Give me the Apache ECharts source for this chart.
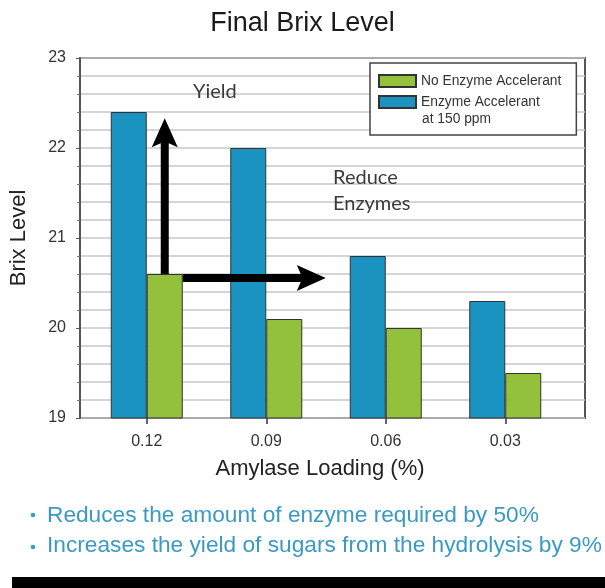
<!DOCTYPE html>
<html><head><meta charset="utf-8">
<script src="https://cdn.jsdelivr.net/npm/echarts@6/dist/echarts.min.js"></script>
<style>html,body{margin:0;padding:0;background:#fff}#c{width:605px;height:588px}</style>
</head><body><div id="c"></div>
<script>
const categories = ['0.12', '0.09', '0.06', '0.03'];
const withAccelerant = [22.4, 22.0, 20.8, 20.3];
const noAccelerant = [20.6, 20.1, 20.0, 19.5];
const yMin = 19, yMax = 23, yInterval = 1;
const nameNo = 'No Enzyme Accelerant';
const nameWith = 'Enzyme Accelerant at 150 ppm';
const bullets = ['Reduces the amount of enzyme required by 50%', 'Increases the yield of sugars from the hydrolysis by 9%'];
const FONT = '"Liberation Sans", Arial, sans-serif';
const BLUE = '#1b93c0', GREEN = '#93c13c';

const chart = echarts.init(document.getElementById('c'), null, {renderer: 'canvas'});
const option = {
  backgroundColor: '#fff',
  animation: false,
  title: {text: 'Final Brix Level', left: 'center', top: 5,
    textStyle: {fontFamily: FONT, fontSize: 27, fontWeight: 'normal', color: '#1a1a1a'}},
  grid: [
    {left: 68, top: 58, width: 517, height: 360, show: true, borderColor: '#555', borderWidth: 2, backgroundColor: 'transparent'},
    {left: 87, top: 58, width: 478, height: 360}
  ],
  xAxis: [
    {gridIndex: 0, type: 'value', min: 0, max: 1, show: false},
    {gridIndex: 1, type: 'category', data: categories, boundaryGap: true,
      axisLine: {show: false},
      axisTick: {show: true, alignWithLabel: true, length: 6, lineStyle: {color: '#333', width: 1.5}},
      axisLabel: {fontFamily: FONT, fontSize: 16, color: '#333', margin: 16},
      name: 'Amylase Loading (%)', nameLocation: 'middle', nameGap: 40,
      nameTextStyle: {fontFamily: FONT, fontSize: 22, color: '#222', padding: [0, 12, 0, 0]}}
  ],
  yAxis: [
    {gridIndex: 0, type: 'value', min: yMin, max: yMax, interval: yInterval,
      axisLine: {show: true, lineStyle: {color: '#555', width: 2}},
      axisTick: {show: true, length: 4, lineStyle: {color: '#555'}},
      minorTick: {show: true, splitNumber: 5, length: 3, lineStyle: {color: '#777'}},
      splitLine: {show: true, lineStyle: {color: '#c8c8c8', width: 1.5}},
      minorSplitLine: {show: true, lineStyle: {color: '#c8c8c8', width: 1.5}},
      axisLabel: {fontFamily: FONT, fontSize: 16, color: '#333', margin: 14},
      name: 'Brix Level', nameLocation: 'middle', nameGap: 50, nameRotate: 90,
      nameTextStyle: {fontFamily: FONT, fontSize: 22, color: '#222'}},
    {gridIndex: 1, type: 'value', min: yMin, max: yMax, interval: yInterval, show: false}
  ],
  legend: {
    data: [nameNo, nameWith], orient: 'vertical', left: 370, top: 63,
    icon: 'rect', itemWidth: 37, itemHeight: 12, itemGap: 7,
    padding: [11, 15, 26, 8],
    backgroundColor: '#fff', borderColor: '#444', borderWidth: 1.5,
    textStyle: {fontFamily: FONT, fontSize: 13.8, color: '#333'},
    formatter: n => n === nameWith ? 'Enzyme Accelerant' : n,
    selectedMode: false
  },
  series: [
    {name: nameWith, type: 'bar', xAxisIndex: 1, yAxisIndex: 1, data: withAccelerant,
      barWidth: 36, barGap: '0%', itemStyle: {color: BLUE, borderColor: '#333', borderWidth: 1}},
    {name: nameNo, type: 'bar', xAxisIndex: 1, yAxisIndex: 1, data: noAccelerant,
      barWidth: 36, barGap: '0%', itemStyle: {color: GREEN, borderColor: '#333', borderWidth: 1}}
  ]
};
chart.setOption(option);

// annotation arrows anchored through the chart's own scale
const p0 = chart.convertToPixel({xAxisIndex: 1, yAxisIndex: 1}, [categories[0], noAccelerant[0]]);
const pTop = chart.convertToPixel({xAxisIndex: 1, yAxisIndex: 1}, [categories[0], 22.33]);
const gx = p0[0] + 18; // centre of green bar
const gy = p0[1];
const topY = pTop[1];
const hx0 = p0[0] + 36, hy = gy + 4, hx1 = hx0 + 143;
const sw = 4, hw = 13, hl = 25;
const bulletGraphics = [];
bullets.forEach((t, i) => {
  const cy = 515 + i * 32;
  bulletGraphics.push({type: 'circle', z: 100, shape: {cx: 33, cy: cy, r: 2.3}, style: {fill: '#3a9ac4'}});
  bulletGraphics.push({type: 'text', z: 100, left: 47, top: cy - 11 - i * 2,
    style: {text: t, font: '22.7px ' + FONT, fill: '#3a9ac4'}});
});
chart.setOption({
  graphic: [
    {type: 'polygon', z: 100, shape: {points: [
      [gx - sw, gy], [gx - sw, topY + hl], [gx - hw, topY + hl + 4], [gx, topY], [gx + hw, topY + hl + 4], [gx + sw, topY + hl], [gx + sw, gy]
    ]}, style: {fill: '#000'}},
    {type: 'polygon', z: 100, shape: {points: [
      [hx0, hy - sw], [hx1 - hl, hy - sw], [hx1 - hl - 4, hy - hw], [hx1, hy], [hx1 - hl - 4, hy + hw], [hx1 - hl, hy + sw], [hx0, hy + sw]
    ]}, style: {fill: '#000'}},
    {type: 'text', z: 100, left: 193, top: 82, style: {text: 'Yield', font: '20px Lato, "Open Sans", sans-serif', fill: '#3a3a3a'}},
    {type: 'text', z: 100, left: 333, top: 168, style: {text: 'Reduce', font: '20px Lato, "Open Sans", sans-serif', fill: '#3a3a3a'}},
    {type: 'text', z: 100, left: 333, top: 194, style: {text: 'Enzymes', font: '20px Lato, "Open Sans", sans-serif', fill: '#3a3a3a'}},
    {type: 'text', z: 100, left: 422, top: 112, style: {text: 'at 150 ppm', font: '13.8px ' + FONT, fill: '#333'}},
    ...bulletGraphics,
    {type: 'rect', z: 100, shape: {x: 12, y: 577, width: 593, height: 11}, style: {fill: '#000'}}
  ]
});
</script></body></html>
